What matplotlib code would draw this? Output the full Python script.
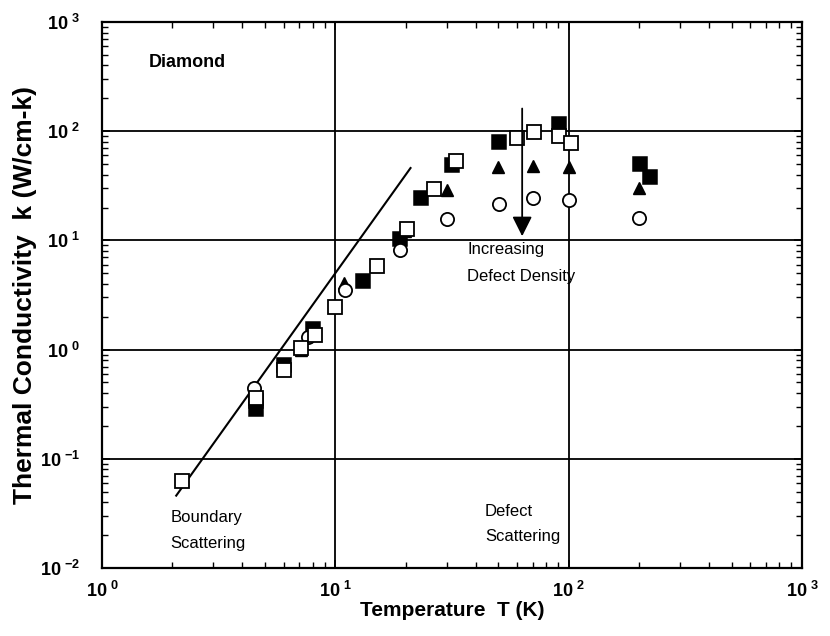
import numpy as np
import matplotlib
matplotlib.use('Agg')
import matplotlib.pyplot as plt
from matplotlib import font_manager
from matplotlib.ticker import FuncFormatter, LogLocator

plt.rcParams['font.family'] = 'Liberation Sans'
plt.rcParams['mathtext.fontset'] = 'custom'
plt.rcParams['mathtext.rm'] = 'Liberation Sans'
plt.rcParams['mathtext.bf'] = 'Liberation Sans:bold'
plt.rcParams['mathtext.default'] = 'bf'

names = {f.name for f in font_manager.fontManager.ttflist}
lab_font = 'Liberation Sans Narrow' if 'Liberation Sans Narrow' in names else 'Liberation Sans'

# values (T in K, k in W/cm-K)
open_sq_T = [2.2, 4.55, 6.05, 7.1, 8.15, 10.0, 15.1, 20.3, 26.4, 33.0, 60.1, 71.0, 91.2, 102]
open_sq_k = [0.063, 0.36, 0.65, 1.04, 1.37, 2.46, 5.78, 12.7, 29.7, 52.8, 86.5, 97.3, 90.8, 77.8]

fill_sq_T = [4.55, 4.55, 6.05, 8.0, 13.1, 18.9, 23.4, 31.5, 50.4, 91.2, 202, 223]
fill_sq_k = [0.336, 0.287, 0.73, 1.55, 4.28, 10.2, 24.4, 49.3, 78.8, 116, 50.3, 38.0]

tri_T = [7.1, 10.9, 19.8, 30.1, 49.9, 70.0, 100.6, 200]
tri_k = [1.0, 4.08, 12.1, 29.1, 46.9, 48.2, 46.9, 30.2]

circ_T = [4.5, 7.63, 11.0, 19.0, 30.2, 50.3, 70.5, 100.6, 201]
circ_k = [0.447, 1.31, 3.54, 8.2, 15.8, 21.7, 24.4, 23.2, 16.0]

# boundary scattering line ~ T^3
line_T = [2.08, 21.0]
line_k = [0.046, 46.0]

fig = plt.figure(figsize=(8.3, 6.36), dpi=100)
ax = fig.add_axes([102/830, 1-568/636, 700/830, 546/636])
ax.set_xscale('log')
ax.set_yscale('log')
ax.set_xlim(1, 1000)
ax.set_ylim(0.01, 1000)

ax.grid(True, which='major', color='k', lw=1.3)
ax.set_axisbelow(True)
for s in ax.spines.values():
    s.set_linewidth(1.6)

ax.plot(line_T, line_k, color='k', lw=1.5, zorder=3)

ms = 9.5
ax.plot(fill_sq_T, fill_sq_k, 's', ms=ms, mfc='k', mec='k', mew=1.1, zorder=4)
ax.plot(tri_T, tri_k, '^', ms=8.5, mfc='k', mec='k', mew=1.0, zorder=5)
ax.plot(circ_T, circ_k, 'o', ms=ms, mfc='white', mec='k', mew=1.3, zorder=5)
ax.plot(open_sq_T, open_sq_k, 's', ms=ms, mfc='white', mec='k', mew=1.3, zorder=6)

ax.annotate('', xy=(63.2, 10.3), xytext=(63.2, 171),
            arrowprops=dict(arrowstyle='-|>,head_length=0.5,head_width=0.25', color='k',
                            lw=1.3, mutation_scale=24), zorder=7)

ax.text(1.585, 429, 'Diamond', fontsize=13, fontweight='bold', va='center', ha='left')
ax.text(36.7, 8.23, 'Increasing', fontsize=12, va='center', ha='left')
ax.text(36.7, 4.69, 'Defect Density', fontsize=12, va='center', ha='left')
ax.text(43.8, 0.0332, 'Defect', fontsize=12, va='center', ha='left')
ax.text(43.8, 0.0196, 'Scattering', fontsize=12, va='center', ha='left')
ax.text(1.96, 0.0289, 'Boundary', fontsize=12, va='center', ha='left')
ax.text(1.96, 0.0168, 'Scattering', fontsize=12, va='center', ha='left')

def fmt(v, pos):
    e = int(round(np.log10(v)))
    return r'$10^{\ {%d}}$' % e

for a in (ax.xaxis, ax.yaxis):
    a.set_major_locator(LogLocator(base=10, numticks=10))
    a.set_minor_locator(LogLocator(base=10, subs=np.arange(2, 10), numticks=10))
    a.set_major_formatter(FuncFormatter(fmt))

ax.tick_params(which='both', direction='in', top=True, right=True, labelsize=13)
ax.tick_params(which='major', length=6, width=1.2)
ax.tick_params(which='minor', length=4, width=1.0)
ax.tick_params(axis='y', pad=16)
ax.tick_params(axis='x', pad=9)

ax.set_xlabel('Temperature  T (K)', fontsize=15, fontweight='bold', family=lab_font)
ax.set_ylabel('Thermal Conductivity  k (W/cm-k)', fontsize=19, fontweight='bold', family=lab_font)
ax.xaxis.set_label_coords(0.5, -0.06)
ax.yaxis.set_label_coords(-0.093, 0.5)

fig.savefig('out.png', dpi=100)
